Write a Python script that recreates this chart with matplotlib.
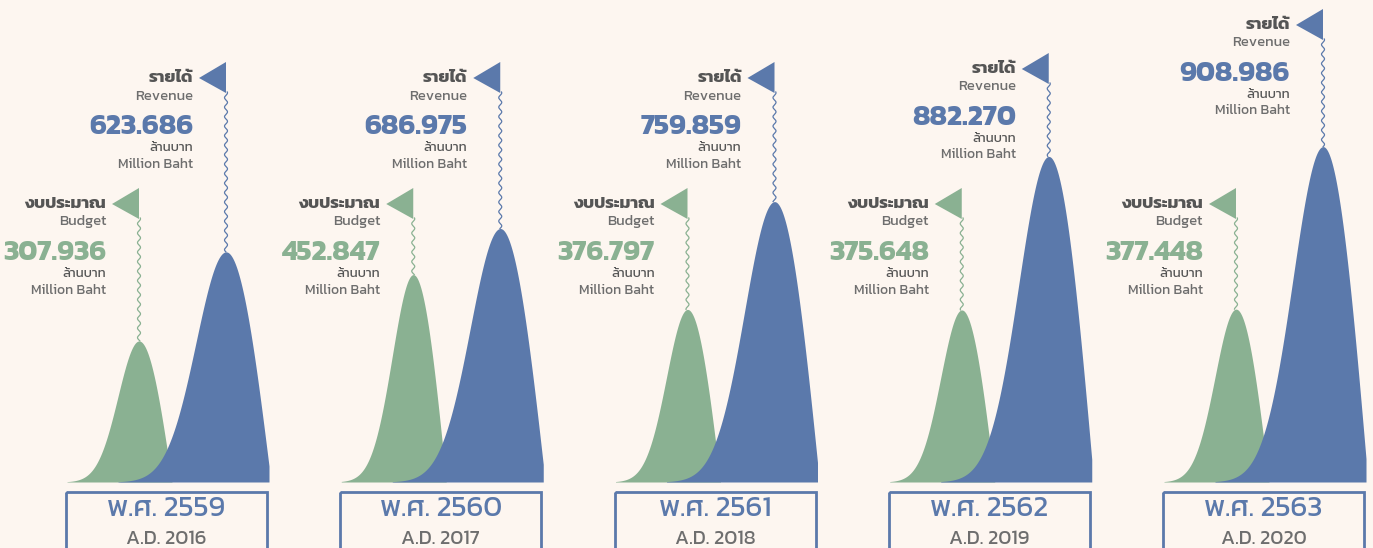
import numpy as np
import matplotlib
matplotlib.use("Agg")
import matplotlib.pyplot as plt
from matplotlib.patches import Polygon, Rectangle

years_be = ["2559", "2560", "2561", "2562", "2563"]
years_ad = ["2016", "2017", "2018", "2019", "2020"]
budget = [307.936, 452.847, 376.797, 375.648, 377.448]
revenue = [623.686, 686.975, 759.859, 882.270, 908.986]

# layout (pixels): top of the flag for each year
rev_flag_top = [62, 62, 62, 53, 9]
bud_flag_top = [188, 188, 188, 188, 188]

BG = "#FDF6F0"
BLUE = "#5B79AB"
GREEN = "#8AB192"
DARK = "#555555"
GRAY = "#6E6E6E"

W, H = 1373, 548
BASE = 482          # baseline of the mountains
BOX_W = 201
GAP = 274.25
X0 = 66
BUD_SCALE = 0.458   # px per million baht
REV_SCALE = 0.369

plt.rcParams["font.family"] = ["Kanit", "DejaVu Sans"]

fig = plt.figure(figsize=(W / 100, H / 100), dpi=100, facecolor=BG)
ax = fig.add_axes([0, 0, 1, 1])
ax.set_xlim(0, W)
ax.set_ylim(H, 0)
ax.axis("off")


def mountain(xc, h, sig, left, a, right, color, z):
    xl = np.linspace(xc - left, xc, 120)
    yl = h * np.exp(-(xl - xc) ** 2 / (2 * sig ** 2))
    xr = np.linspace(xc, xc + right, 80)
    yr = h * np.cos(np.pi / 2 * (xr - xc) / a)
    x = np.concatenate([xl, xr, [xc + right]])
    y = np.concatenate([yl, yr, [0]])
    ax.fill_between(x, BASE, BASE - np.clip(y, 0, None), color=color, lw=0, zorder=z)


def flag(xr, top, h_peak, color, th, en, value):
    # triangle pointing left, right edge on the pole
    tri = Polygon([[xr, top], [xr, top + 31], [xr - 27, top + 16]],
                  closed=True, color=color, lw=0, zorder=4)
    ax.add_patch(tri)
    yy = np.linspace(top + 30, h_peak, 400)
    ax.plot(xr + 1.5 * np.sin(2 * np.pi * (yy - top) / 9.5), yy,
            color=color, lw=0.9, zorder=3)
    tx = xr - 33
    ax.text(tx, top + 16, th, ha="right", va="center", fontsize=12.5,
            fontweight="bold", color=DARK)
    ax.text(tx, top + 34, en, ha="right", va="center", fontsize=10.5, color=GRAY)
    ax.text(tx, top + 65, value, ha="right", va="center", fontsize=20.5,
            fontweight="bold", color=color)
    ax.text(tx, top + 86, "ล้านบาท", ha="right", va="center", fontsize=9.5,
            color=DARK)
    ax.text(tx, top + 102, "Million Baht", ha="right", va="center",
            fontsize=10, color=GRAY)


for i in range(len(years_be)):
    L = X0 + i * GAP
    gx = L + 73
    bx = L + 160
    gh = budget[i] * BUD_SCALE
    rh = revenue[i] * REV_SCALE

    mountain(gx, gh, 21, 72, 33, 33, GREEN, 1)
    mountain(bx, rh, 30, 108, 45, 43, BLUE, 2)

    flag(gx, bud_flag_top[i], BASE - gh, GREEN, "งบประมาณ", "Budget",
         f"{budget[i]:.3f}")
    flag(bx, rev_flag_top[i], BASE - rh, BLUE, "รายได้", "Revenue",
         f"{revenue[i]:.3f}")

    ax.add_patch(Rectangle((L, 492), BOX_W, 80, fill=False, ec=BLUE,
                           lw=2, zorder=2))
    ax.text(L + BOX_W / 2, 509, "พ.ศ. " + years_be[i], ha="center",
            va="center", fontsize=21, color=BLUE)
    ax.text(L + BOX_W / 2, 539, "A.D. " + years_ad[i], ha="center",
            va="center", fontsize=14.5, color=GRAY)

plt.savefig("out.png", dpi=100, facecolor=BG)
